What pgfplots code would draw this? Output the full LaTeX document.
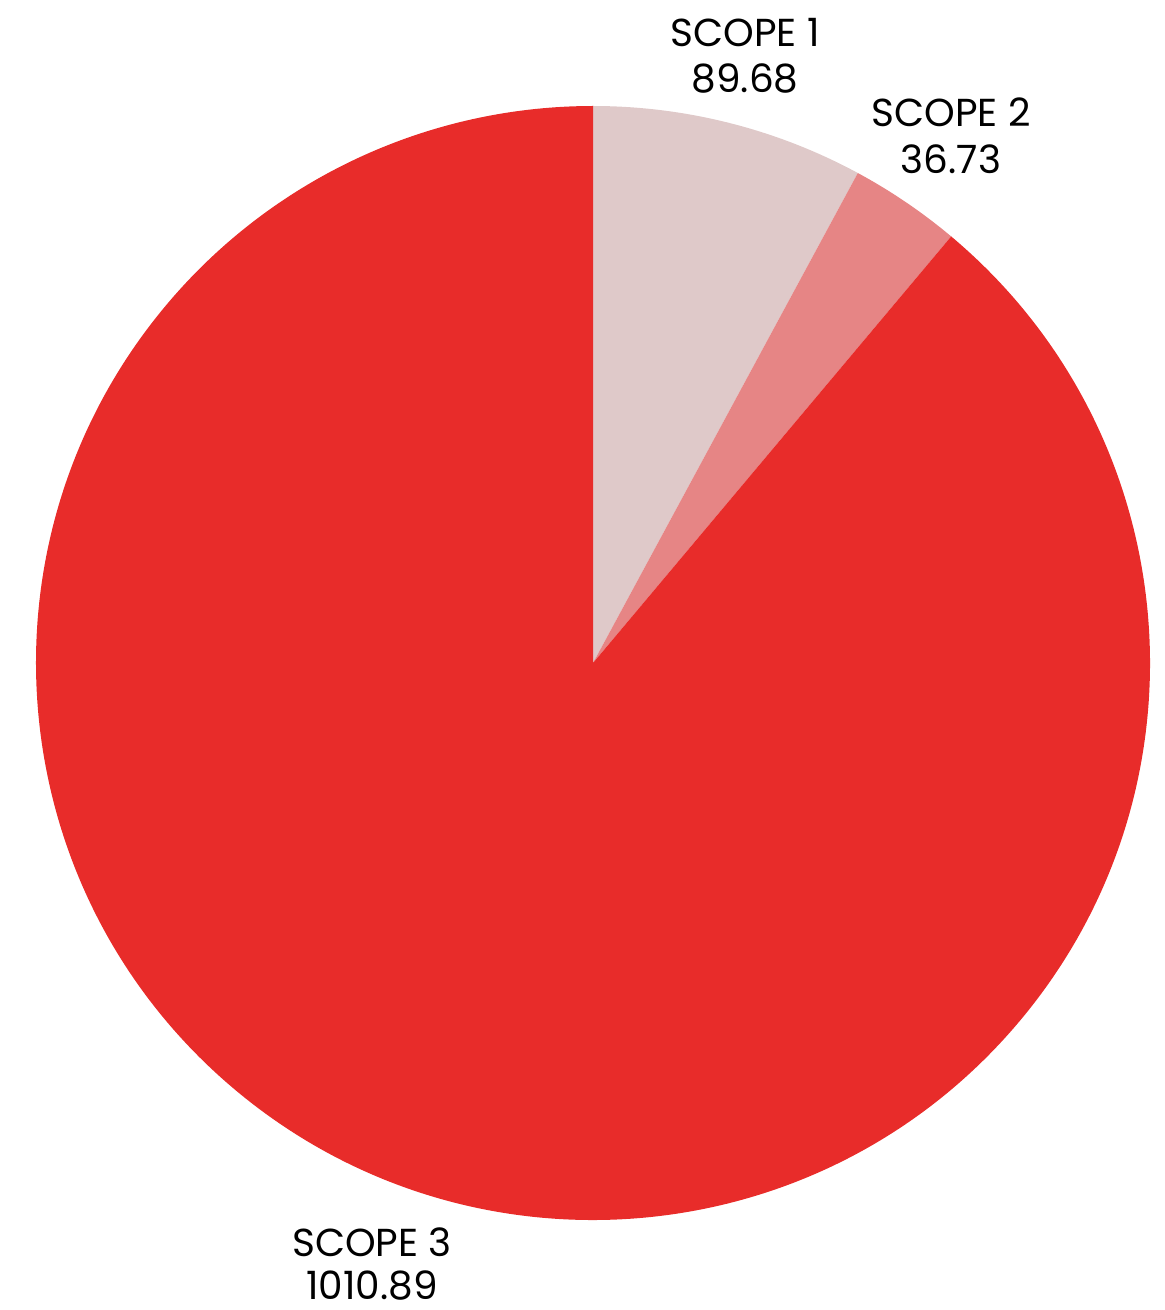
\documentclass[border=0pt]{standalone}
\usepackage{pgfplots}
\pgfplotsset{compat=1.18}
\usepackage{fontspec}
\setmainfont{Poppins}

\definecolor{scopeA}{HTML}{DFC9C9}
\definecolor{scopeB}{HTML}{E68585}
\definecolor{scopeC}{HTML}{E82C2A}

% values of the three slices
\def\vA{89.68}
\def\vB{36.73}
\def\vC{1010.89}
\pgfmathsetmacro\tot{\vA+\vB+\vC}
\pgfmathsetmacro\aA{90-360*(\vA/\tot)}
\pgfmathsetmacro\aB{\aA-360*(\vB/\tot)}
\def\R{278.5pt}

\begin{document}
\begin{tikzpicture}[lbl/.style={font=\fontsize{19.5}{23.5}\selectfont, anchor=base, inner sep=0pt}]
\begin{axis}[
    x=0.5pt, y=0.5pt,
    xmin=0, xmax=1165,
    ymin=0, ymax=1310,
    y dir=reverse,
    hide axis,
    clip=false,
]
\coordinate (bl) at (axis cs:0,1310);
\coordinate (tr) at (axis cs:1165,0);

\fill[scopeA] (axis cs:593,663) -- ++(90:\R)
    arc[start angle=90, end angle=\aA, radius=\R] -- cycle;
\fill[scopeB] (axis cs:593,663) -- ++(\aA:\R)
    arc[start angle=\aA, end angle=\aB, radius=\R] -- cycle;
\fill[scopeC] (axis cs:593,663) -- ++(\aB:\R)
    arc[start angle=\aB, end angle=-270, radius=\R] -- cycle;

\node[lbl] at (axis cs:745,47) {SCOPE 1};
\node[lbl] at (axis cs:745,93) {89.68};
\node[lbl] at (axis cs:951,127) {SCOPE 2};
\node[lbl] at (axis cs:951,174) {36.73};
\node[lbl] at (axis cs:372,1256) {SCOPE 3};
\node[lbl] at (axis cs:372,1299) {1010.89};
\end{axis}
\pgfresetboundingbox
\useasboundingbox (bl) rectangle (tr);
\end{tikzpicture}
\end{document}
